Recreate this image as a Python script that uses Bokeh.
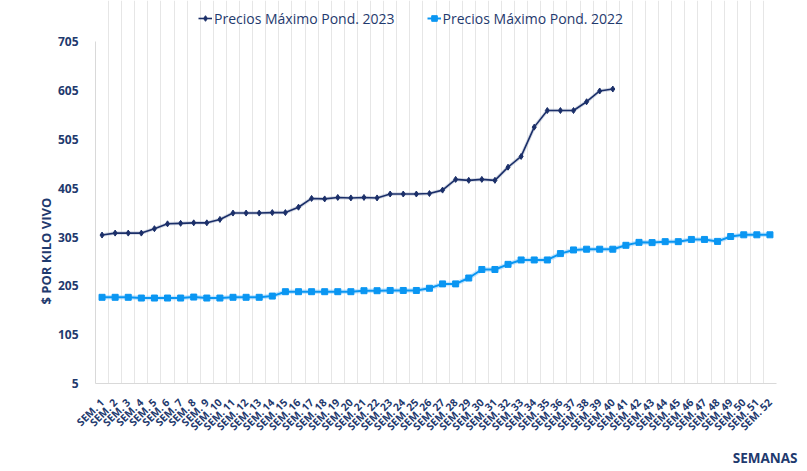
from math import pi
from bokeh.plotting import figure
from bokeh.models import Range1d, FixedTicker, Legend, LegendItem, Title
from bokeh.embed import file_html
from bokeh.resources import INLINE

# ---------------- data ----------------
weeks = list(range(1, 53))
week_labels = [f"SEM. {w}" for w in weeks]

weeks_2023 = weeks[:40]
precios_2023 = [309, 313, 313, 313, 322, 332, 333, 334, 334, 341,
                354, 354, 354, 355, 355, 366, 384, 383, 386, 385,
                386, 385, 393, 393, 393, 394, 401, 423, 421, 423,
                421, 448, 470, 530, 564, 564, 564, 582, 604, 608]

precios_2022 = [181.5, 181.5, 181.5, 180, 180, 180, 180, 182, 180, 180,
                181.5, 181.5, 181.5, 184, 193, 193, 193, 193, 193, 193,
                195, 195, 195.5, 195.5, 195.5, 200, 209, 209, 221, 238.5,
                238.5, 249, 258, 258, 258, 271, 278.5, 280, 280, 280,
                288, 294, 293.5, 295.5, 295.5, 300, 300, 296, 306, 309.5,
                309.5, 309.5]

y_ticks = [5, 105, 205, 305, 405, 505, 605, 705]
y_min, y_max = 5, 705

series_names = ["Precios Máximo Pond. 2023", "Precios Máximo Pond. 2022"]

# ---------------- layout ----------------
FRAME_TOP, FRAME_BOTTOM = 0, 400      # frame spans legend area too
AXIS_TOP = 43                          # pixel where y_max sits
range_end = y_min + (y_max - y_min) * (FRAME_BOTTOM - FRAME_TOP) / (FRAME_BOTTOM - AXIS_TOP)

NAVY = "#1F3A6E"
C23 = "#1B2F69"
C22 = "#0A96F2"
GRID = "#E6E6E6"

p = figure(width=807, height=471, output_backend="svg", toolbar_location=None,
           x_range=Range1d(0.5, 52.5), y_range=Range1d(y_min, range_end),
           min_border_left=95, min_border_right=31, min_border_top=FRAME_TOP,
           min_border_bottom=71)
p.outline_line_color = None
p.background_fill_color = "white"
p.border_fill_color = "white"

# x axis
p.xaxis.ticker = FixedTicker(ticks=weeks)
p.xaxis.major_label_overrides = {w: l for w, l in zip(weeks, week_labels)}
p.xaxis.major_label_orientation = pi / 4
p.xaxis.major_tick_line_color = None
p.xaxis.minor_tick_line_color = None
p.xaxis.axis_line_color = "#D9D9D9"
p.xaxis.major_label_text_font = "Open Sans"
p.xaxis.major_label_text_font_style = "bold"
p.xaxis.major_label_text_font_size = "10.5px"
p.xaxis.major_label_text_color = NAVY
p.xaxis.major_label_standoff = 11

# grid at category boundaries
p.xgrid.ticker = FixedTicker(ticks=[w + 0.5 for w in [0] + weeks])
p.xgrid.grid_line_color = GRID
p.xgrid.bounds = (y_min, y_max)
p.ygrid.grid_line_color = None

# y axis
p.yaxis.ticker = FixedTicker(ticks=y_ticks)
p.yaxis.bounds = (y_min, y_max)
p.yaxis.major_tick_line_color = None
p.yaxis.minor_tick_line_color = None
p.yaxis.axis_line_color = "#D9D9D9"
p.yaxis.major_label_text_font = "Open Sans"
p.yaxis.major_label_text_font_style = "bold"
p.yaxis.major_label_text_font_size = "12px"
p.yaxis.major_label_text_color = NAVY
p.yaxis.major_label_standoff = 11

# glow
p.line(weeks, precios_2022, line_color="#7FC8FF", line_width=4.5, line_alpha=0.45)
p.line(weeks_2023, precios_2023, line_color="#8A97B8", line_width=3.5, line_alpha=0.35)

# series
l22 = p.line(weeks, precios_2022, line_color=C22, line_width=2)
s22 = p.scatter(weeks, precios_2022, marker="square", size=6, fill_color=C22, line_color=C22)
l23 = p.line(weeks_2023, precios_2023, line_color=C23, line_width=1.6)
s23 = p.scatter(weeks_2023, precios_2023, marker="diamond", size=6, fill_color=C23, line_color=C23)

legend = Legend(items=[LegendItem(label=series_names[0], renderers=[l23, s23]),
                       LegendItem(label=series_names[1], renderers=[l22, s22])],
                location=(103, 355), orientation="horizontal")
legend.border_line_color = None
legend.background_fill_alpha = 0
legend.padding = 2
legend.margin = 0
legend.spacing = 32
legend.glyph_width = 14
legend.label_standoff = 2
legend.label_text_font = "Open Sans"
legend.label_text_font_size = "14px"
legend.label_text_color = NAVY
p.add_layout(legend, "center")

ytitle = Title(text="$ POR KILO VIVO", align="left", offset=79, standoff=0,
               vertical_align="bottom",
               text_font="Open Sans", text_font_style="bold", text_font_size="13px",
               text_color=NAVY)
p.add_layout(ytitle, "left")

xtitle = Title(text="SEMANAS", align="right", offset=-21,
               text_font="Open Sans", text_font_style="bold", text_font_size="13.5px",
               text_color=NAVY)
p.add_layout(xtitle, "below")

open("out.html", "w").write(file_html(p, INLINE))
